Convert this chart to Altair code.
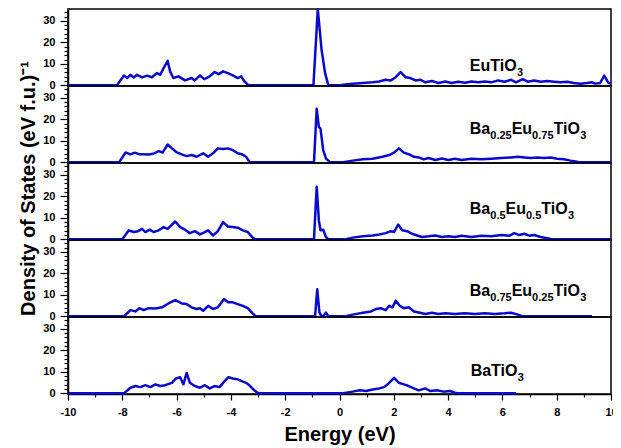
import altair as alt
import pandas as pd

# ---------------- data (Energy eV, DOS) ----------------
eutio3 = [(-10, 0), (-8.20, 0), (-7.94, 4.6), (-7.82, 3.4), (-7.70, 4.9), (-7.58, 3.7), (-7.46, 4.9),
          (-7.27, 3.7), (-7.09, 4.5), (-6.91, 3.8), (-6.72, 5.7), (-6.60, 4.9), (-6.48, 8.0), (-6.33, 11.4),
          (-6.24, 6.5), (-6.12, 3.4), (-5.93, 4.2), (-5.69, 2.3), (-5.45, 3.4), (-5.33, 2.3), (-5.14, 4.6),
          (-4.98, 2.9), (-4.78, 4.2), (-4.60, 6.2), (-4.45, 5.2), (-4.29, 6.5), (-4.11, 5.7), (-3.93, 4.6),
          (-3.75, 3.4), (-3.62, 4.2), (-3.50, 1.8), (-3.38, 0.3), (-3.32, 0),
          (-0.96, 0), (-0.80, 35.5), (-0.66, 16.5), (-0.53, 5.7), (-0.41, 0),
          (0.00, 0), (0.13, 0.3), (0.49, 0.8), (0.86, 1.1), (1.22, 1.4), (1.46, 1.8), (1.70, 2.6), (1.89, 2.3),
          (2.07, 3.8), (2.25, 6.2), (2.43, 3.8), (2.61, 3.4), (2.80, 2.3), (2.98, 2.6), (3.16, 1.4), (3.40, 2.0),
          (3.65, 1.1), (3.89, 1.8), (4.13, 1.1), (4.38, 1.7), (4.62, 1.2), (4.86, 1.8), (5.11, 1.4), (5.35, 1.8),
          (5.59, 1.4), (5.84, 2.3), (6.08, 1.7), (6.32, 2.6), (6.50, 1.4), (6.75, 2.9), (6.93, 1.7), (7.17, 2.3),
          (7.41, 1.7), (7.66, 2.0), (7.90, 1.7), (8.14, 1.4), (8.39, 1.7), (8.63, 1.1), (8.87, 0.8), (9.12, 1.1),
          (9.30, 1.4), (9.42, 0.8), (9.60, 1.1), (9.75, 4.5), (9.91, 1.1), (10.0, 0.8)]

ba25 = [(-10, 0), (-8.12, 0), (-7.88, 4.6), (-7.70, 3.7), (-7.54, 4.5), (-7.39, 3.8), (-7.21, 3.8), (-7.03, 3.7),
        (-6.85, 4.0), (-6.66, 5.2), (-6.51, 4.6), (-6.33, 8.3), (-6.17, 6.5), (-5.99, 4.6), (-5.81, 3.7),
        (-5.63, 2.9), (-5.45, 3.4), (-5.26, 2.6), (-5.02, 4.2), (-4.84, 2.6), (-4.66, 4.2), (-4.48, 6.5),
        (-4.29, 6.2), (-4.11, 6.5), (-3.93, 5.7), (-3.75, 4.2), (-3.60, 3.8), (-3.44, 2.6), (-3.32, 0.3), (-3.26, 0),
        (-0.94, 0), (-0.84, 24.9), (-0.76, 16.5), (-0.70, 15.7), (-0.60, 5.7), (-0.50, 1.8), (-0.41, 0.8), (-0.35, 0),
        (0.13, 0), (0.49, 0.8), (0.86, 1.4), (1.22, 1.7), (1.58, 2.6), (1.83, 3.4), (2.01, 4.5), (2.19, 6.5),
        (2.37, 4.5), (2.55, 3.8), (2.74, 2.6), (2.92, 2.3), (3.10, 1.4), (3.28, 2.0), (3.53, 1.1), (3.77, 1.8),
        (4.01, 1.1), (4.25, 1.7), (4.50, 1.1), (4.86, 1.7), (5.23, 1.4), (5.59, 1.7), (5.96, 2.0), (6.32, 2.3),
        (6.57, 2.6), (6.81, 2.3), (7.05, 2.0), (7.29, 2.3), (7.54, 2.0), (7.78, 2.3), (8.02, 1.7), (8.27, 1.4),
        (8.51, 0.8), (8.75, 0.3), (8.87, 0), (10, 0)]

ba50 = [(-10, 0), (-8.00, 0), (-7.76, 4.2), (-7.58, 3.4), (-7.42, 3.8), (-7.27, 4.9), (-7.15, 3.4), (-6.99, 4.5),
        (-6.85, 3.4), (-6.66, 4.2), (-6.48, 5.7), (-6.33, 4.9), (-6.17, 6.9), (-6.05, 8.3), (-5.87, 5.7),
        (-5.69, 4.5), (-5.51, 2.9), (-5.33, 3.8), (-5.14, 2.3), (-4.96, 3.4), (-4.84, 4.2), (-4.66, 1.8),
        (-4.48, 3.8), (-4.29, 8.0), (-4.11, 6.0), (-3.93, 5.7), (-3.75, 5.4), (-3.56, 4.2), (-3.38, 3.4),
        (-3.20, 0.8), (-3.11, 0),
        (-0.94, 0), (-0.84, 24.5), (-0.76, 8.8), (-0.70, 4.2), (-0.60, 4.5), (-0.50, 1.1), (-0.41, 0),
        (0.19, 0), (0.49, 0.8), (0.86, 1.4), (1.22, 1.8), (1.46, 2.3), (1.70, 2.9), (1.89, 3.8), (2.01, 3.4),
        (2.16, 6.9), (2.31, 4.2), (2.49, 3.8), (2.67, 2.6), (2.86, 1.8), (3.04, 1.1), (3.28, 1.4), (3.53, 1.8),
        (3.77, 1.1), (4.01, 1.4), (4.25, 1.1), (4.50, 1.7), (4.86, 1.1), (5.23, 1.7), (5.59, 1.4), (5.96, 2.0),
        (6.26, 1.7), (6.44, 2.9), (6.62, 2.0), (6.81, 2.6), (6.99, 1.7), (7.17, 2.0), (7.41, 1.1), (7.66, 0.5),
        (7.84, 0), (10, 0)]

ba75 = [(-10, 0), (-7.94, 0), (-7.70, 2.9), (-7.52, 2.3), (-7.37, 3.8), (-7.21, 2.9), (-7.03, 3.8), (-6.78, 3.7),
        (-6.54, 4.2), (-6.30, 6.0), (-6.05, 7.5), (-5.81, 6.0), (-5.63, 5.7), (-5.45, 4.2), (-5.26, 3.4),
        (-5.14, 3.8), (-5.02, 2.6), (-4.84, 4.9), (-4.66, 3.4), (-4.48, 4.2), (-4.26, 8.0), (-4.09, 6.5),
        (-3.93, 6.5), (-3.75, 5.7), (-3.56, 4.9), (-3.38, 3.8), (-3.20, 1.4), (-3.08, 0),
        (-0.90, 0), (-0.82, 12.6), (-0.74, 1.8), (-0.66, 0), (-0.58, 0.3), (-0.50, 1.8), (-0.41, 0),
        (0.19, 0), (0.49, 0.8), (0.86, 1.7), (1.16, 2.3), (1.34, 3.4), (1.52, 3.8), (1.70, 2.9), (1.83, 4.9),
        (1.95, 4.2), (2.07, 7.2), (2.22, 4.9), (2.37, 3.8), (2.55, 4.2), (2.74, 2.3), (2.92, 1.8), (3.16, 1.1),
        (3.40, 1.7), (3.65, 1.1), (3.89, 1.4), (4.25, 1.1), (4.62, 1.4), (4.99, 1.1), (5.35, 1.4), (5.72, 1.1),
        (6.08, 1.4), (6.32, 1.7), (6.57, 0.8), (6.75, 0), (9.30, 0)]

batio3 = [(-10, 0), (-7.94, 0), (-7.70, 2.6), (-7.52, 3.4), (-7.33, 2.9), (-7.15, 3.8), (-6.97, 2.9), (-6.78, 4.2),
          (-6.60, 3.4), (-6.42, 3.8), (-6.17, 4.9), (-6.03, 6.9), (-5.87, 7.5), (-5.75, 4.2), (-5.63, 9.5),
          (-5.51, 4.9), (-5.33, 3.4), (-5.14, 2.6), (-4.96, 3.8), (-4.78, 2.3), (-4.60, 3.4), (-4.42, 2.9),
          (-4.23, 5.7), (-4.09, 7.5), (-3.93, 6.9), (-3.75, 6.5), (-3.60, 5.7), (-3.44, 4.9), (-3.29, 3.4),
          (-3.14, 1.4), (-2.99, 0),
          (0.13, 0), (0.49, 0.8), (0.74, 1.4), (0.98, 1.1), (1.22, 1.8), (1.46, 2.3), (1.64, 2.9), (1.80, 4.5),
          (2.01, 7.2), (2.19, 4.9), (2.37, 4.2), (2.55, 3.4), (2.74, 2.3), (2.92, 1.4), (3.16, 2.3), (3.34, 1.1),
          (3.59, 1.4), (3.83, 0.8), (4.07, 1.1), (4.25, 0.3), (4.38, 0), (6.50, 0)]

series = [eutio3, ba25, ba50, ba75, batio3]

# compound labels as (text, is_subscript) segments
label_segments = [
    [("EuTiO", False), ("3", True)],
    [("Ba", False), ("0.25", True), ("Eu", False), ("0.75", True), ("TiO", False), ("3", True)],
    [("Ba", False), ("0.5", True), ("Eu", False), ("0.5", True), ("TiO", False), ("3", True)],
    [("Ba", False), ("0.75", True), ("Eu", False), ("0.25", True), ("TiO", False), ("3", True)],
    [("BaTiO", False), ("3", True)],
]
label_energy = [4.8, 4.8, 4.8, 4.8, 4.83]
label_dos = [6.8, 13.0, 11.8, 9.5, 8.0]

x_ticks = list(range(-10, 11))
y_ticks = list(range(0, 35, 2))

# ---------------- styling ----------------
FONT = "Liberation Sans"
BLUE = "#0a0acc"
MAIN_FS = 16
SUB_FS = 11
PANEL_W = 543
PANEL_H = 77

# Arial-bold advance widths (per 1000 em) for label layout
ADV = {"E": 667, "u": 611, "T": 611, "i": 278, "O": 778, "B": 722, "a": 556, ".": 278}
for d in "0123456789":
    ADV[d] = 556


def seg_width(text, size):
    return sum(ADV.get(c, 556) for c in text) * size / 1000.0


xscale = alt.Scale(domain=[-10, 10], nice=False, zero=False)
yscale = alt.Scale(domain=[-0.3, 35.5], nice=False, zero=False)

panels = []
n = len(series)
for i, pts in enumerate(series):
    df = pd.DataFrame(pts, columns=["E", "D"])

    yaxis_kwargs = dict(
        values=y_ticks,
        labelExpr="datum.value % 10 === 0 ? datum.label : ''",
        tickSize={"condition": {"test": "datum.value % 10 === 0", "value": 8}, "value": 4},
        labelFontSize=11, labelFontWeight="bold", labelColor="black",
        labelPadding=5, grid=False, domainColor="black", domainWidth=1.5,
        tickColor="black", tickWidth=1.2, labelOverlap=False, labelFlush=False,
    )
    if i == 2:
        yaxis = alt.Axis(title="Density of States (eV f.u.)\u207b\u00b9", titleFontSize=20,
                         titleFontWeight="bold", titleColor="black", titlePadding=4, titleY=25,
                         **yaxis_kwargs)
    else:
        yaxis = alt.Axis(title=None, **yaxis_kwargs)

    if i == n - 1:
        xaxis = alt.Axis(values=x_ticks,
                         labelExpr="datum.value % 2 === 0 ? '' + datum.value : ''",
                         tickSize={"condition": {"test": "datum.value % 2 === 0", "value": 6}, "value": 3},
                         title="Energy (eV)", titleFontSize=20,
                         titleFontWeight="bold", titleColor="black", titlePadding=7,
                         labelFontSize=11, labelFontWeight="bold", labelColor="black",
                         labelPadding=6, grid=False, domainColor="black", domainWidth=1.5,
                         tickColor="black", tickWidth=1.2, labelOverlap=False, labelFlush=False)
    else:
        xaxis = None

    line = alt.Chart(df).mark_line(color=BLUE, strokeWidth=2.5, strokeJoin="round").encode(
        x=alt.X("E:Q", scale=xscale, axis=xaxis),
        y=alt.Y("D:Q", scale=yscale, axis=yaxis),
        order="E:Q",
    )
    layers = [line]

    # label: one text mark per segment, placed with pixel offsets from the anchor
    off = 0.0
    for text, sub in label_segments[i]:
        fs = SUB_FS if sub else MAIN_FS
        seg = pd.DataFrame({"x": [label_energy[i]], "y": [label_dos[i]], "t": [text]})
        layers.append(
            alt.Chart(seg).mark_text(align="left", baseline="alphabetic", fontWeight="bold",
                                     color="black", font=FONT, fontSize=fs,
                                     dx=off, dy=5 if sub else 0).encode(
                x=alt.X("x:Q", scale=xscale, axis=xaxis),
                y=alt.Y("y:Q", scale=yscale, axis=yaxis),
                text="t:N",
            )
        )
        off += seg_width(text, fs)
    panels.append(alt.layer(*layers).properties(width=PANEL_W, height=PANEL_H))

chart = (
    alt.vconcat(*panels, spacing=0, bounds="flush")
    .properties(padding={"left": 10, "right": -5, "top": -3, "bottom": 0})
    .configure(font=FONT)
    .configure_view(stroke="black", strokeWidth=1.5)
)

chart.save("out.html", embed_options={"renderer": "svg", "actions": False})
